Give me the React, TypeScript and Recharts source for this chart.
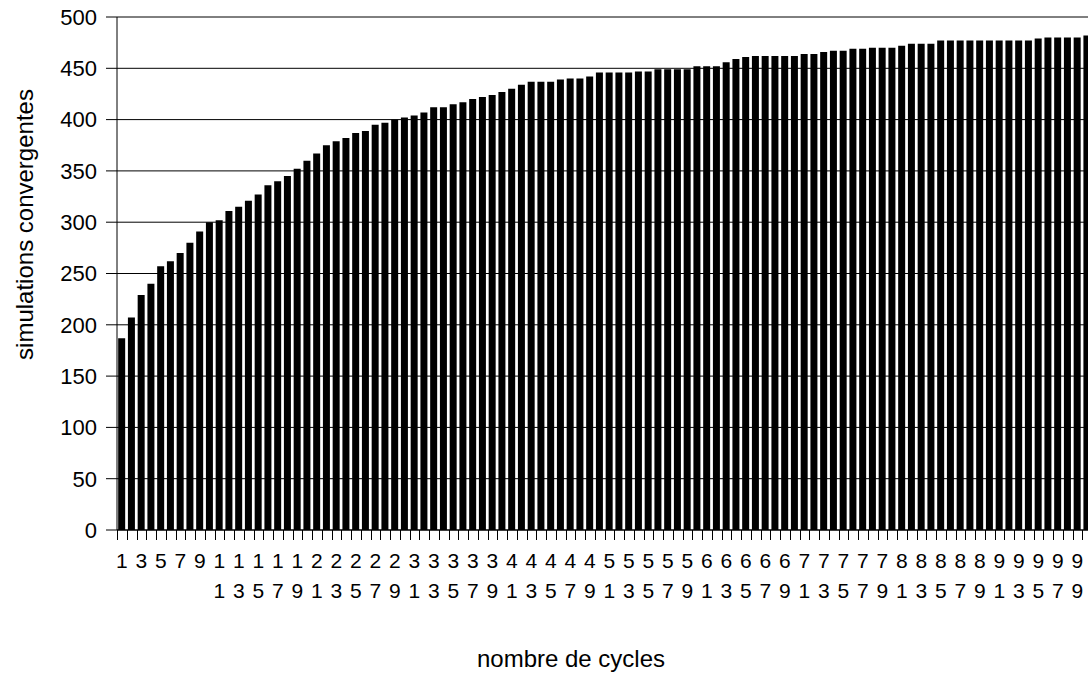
import React from 'react';
import { BarChart, Bar, XAxis, YAxis, CartesianGrid, Label } from 'recharts';

const cycles: number[] = [
  1, 2, 3, 4, 5, 6, 7, 8, 9, 10,
  11, 12, 13, 14, 15, 16, 17, 18, 19, 20,
  21, 22, 23, 24, 25, 26, 27, 28, 29, 30,
  31, 32, 33, 34, 35, 36, 37, 38, 39, 40,
  41, 42, 43, 44, 45, 46, 47, 48, 49, 50,
  51, 52, 53, 54, 55, 56, 57, 58, 59, 60,
  61, 62, 63, 64, 65, 66, 67, 68, 69, 70,
  71, 72, 73, 74, 75, 76, 77, 78, 79, 80,
  81, 82, 83, 84, 85, 86, 87, 88, 89, 90,
  91, 92, 93, 94, 95, 96, 97, 98, 99, 100,
];

const convergent: number[] = [
  187, 207, 229, 240, 257, 262, 270, 280, 291, 300,
  302, 311, 315, 321, 327, 336, 340, 345, 352, 360,
  367, 375, 379, 382, 387, 389, 395, 397, 400, 402,
  404, 407, 412, 412, 415, 417, 420, 422, 424, 427,
  430, 434, 437, 437, 437, 439, 440, 440, 442, 446,
  446, 446, 446, 447, 447, 449, 449, 449, 449, 452,
  452, 452, 456, 459, 461, 462, 462, 462, 462, 462,
  464, 464, 466, 467, 467, 469, 469, 470, 470, 470,
  472, 474, 474, 474, 477, 477, 477, 477, 477, 477,
  477, 477, 477, 477, 479, 480, 480, 480, 480, 482,
];

const yTicks: number[] = [0, 50, 100, 150, 200, 250, 300, 350, 400, 450, 500];

const yTitle = 'simulations convergentes';
const xTitle = 'nombre de cycles';

const data = cycles.map((c, i) => ({ cycle: c, count: convergent[i] }));

const FONT = '"Liberation Sans", Arial, sans-serif';

function XTick(props: any) {
  const { x, y, payload } = props;
  const v: number = Number(payload?.value);
  const s = String(v);
  const showLabel = v % 2 === 1;
  const half = typeof payload?.offset === 'number' && payload.offset > 0 ? payload.offset : 4.875;
  const bx = Math.round(Number(x) - half);
  const Y = Number(y);
  return (
    <g>
      <rect x={bx} y={Y} width={1} height={10} fill="#000" />
      {showLabel && (
        <text x={x} y={Y + 37.5} textAnchor="middle" fill="#000" style={{ fontSize: 21, fontFamily: FONT }}>
          {s.length > 1 ? s[0] : s}
        </text>
      )}
      {showLabel && s.length > 1 && (
        <text x={x} y={Y + 67.5} textAnchor="middle" fill="#000" style={{ fontSize: 21, fontFamily: FONT }}>
          {s.slice(1)}
        </text>
      )}
    </g>
  );
}

const YTitleContent = (props: any) => {
  const vb = props.viewBox || { x: 0, y: 17, width: 117, height: 513 };
  const cx = vb.x + 33;
  const cy = vb.y + vb.height / 2 - 49;
  return (
    <text
      x={cx}
      y={cy}
      transform={`rotate(-90, ${cx}, ${cy})`}
      textAnchor="middle"
      fill="#000"
      fontSize={24}
      fontFamily={FONT}
    >
      {yTitle}
    </text>
  );
};

const XTitleContent = (props: any) => {
  const vb = props.viewBox || { x: 117, y: 530, width: 975, height: 145 };
  const cx = vb.x + vb.width / 2 - 33.5;
  const cy = vb.y + 137;
  return (
    <text x={cx} y={cy} textAnchor="middle" fill="#000" fontSize={24} fontFamily={FONT}>
      {xTitle}
    </text>
  );
};

export default function App() {
  return (
    <div
      style={{
        position: 'absolute',
        left: 0,
        top: 0,
        width: 1088,
        height: 675,
        overflow: 'hidden',
        background: '#fff',
      }}
    >
      <BarChart
        width={1092}
        height={675}
        data={data}
        margin={{ top: 17, right: 0, left: 0, bottom: 0 }}
        barCategoryGap="12%"
      >
        <CartesianGrid vertical={false} stroke="#000" strokeWidth={1} />
        <XAxis
          dataKey="cycle"
          type="category"
          interval={0}
          height={145}
          tickLine={false}
          tickSize={0}
          tickMargin={0}
          axisLine={{ stroke: '#000', strokeWidth: 1 }}
          tick={(p: any) => <XTick {...p} />}
        >
          <Label content={<XTitleContent />} />
        </XAxis>
        <YAxis
          type="number"
          domain={[0, 500]}
          ticks={yTicks}
          interval={0}
          width={117}
          tickSize={11}
          tickMargin={9}
          axisLine={{ stroke: '#000', strokeWidth: 1 }}
          tickLine={{ stroke: '#000', strokeWidth: 1 }}
          tick={{ fill: '#000', fontSize: 22, fontFamily: FONT }}
        >
          <Label content={<YTitleContent />} />
        </YAxis>
        <Bar dataKey="count" fill="#000" isAnimationActive={false} />
      </BarChart>
    </div>
  );
}
